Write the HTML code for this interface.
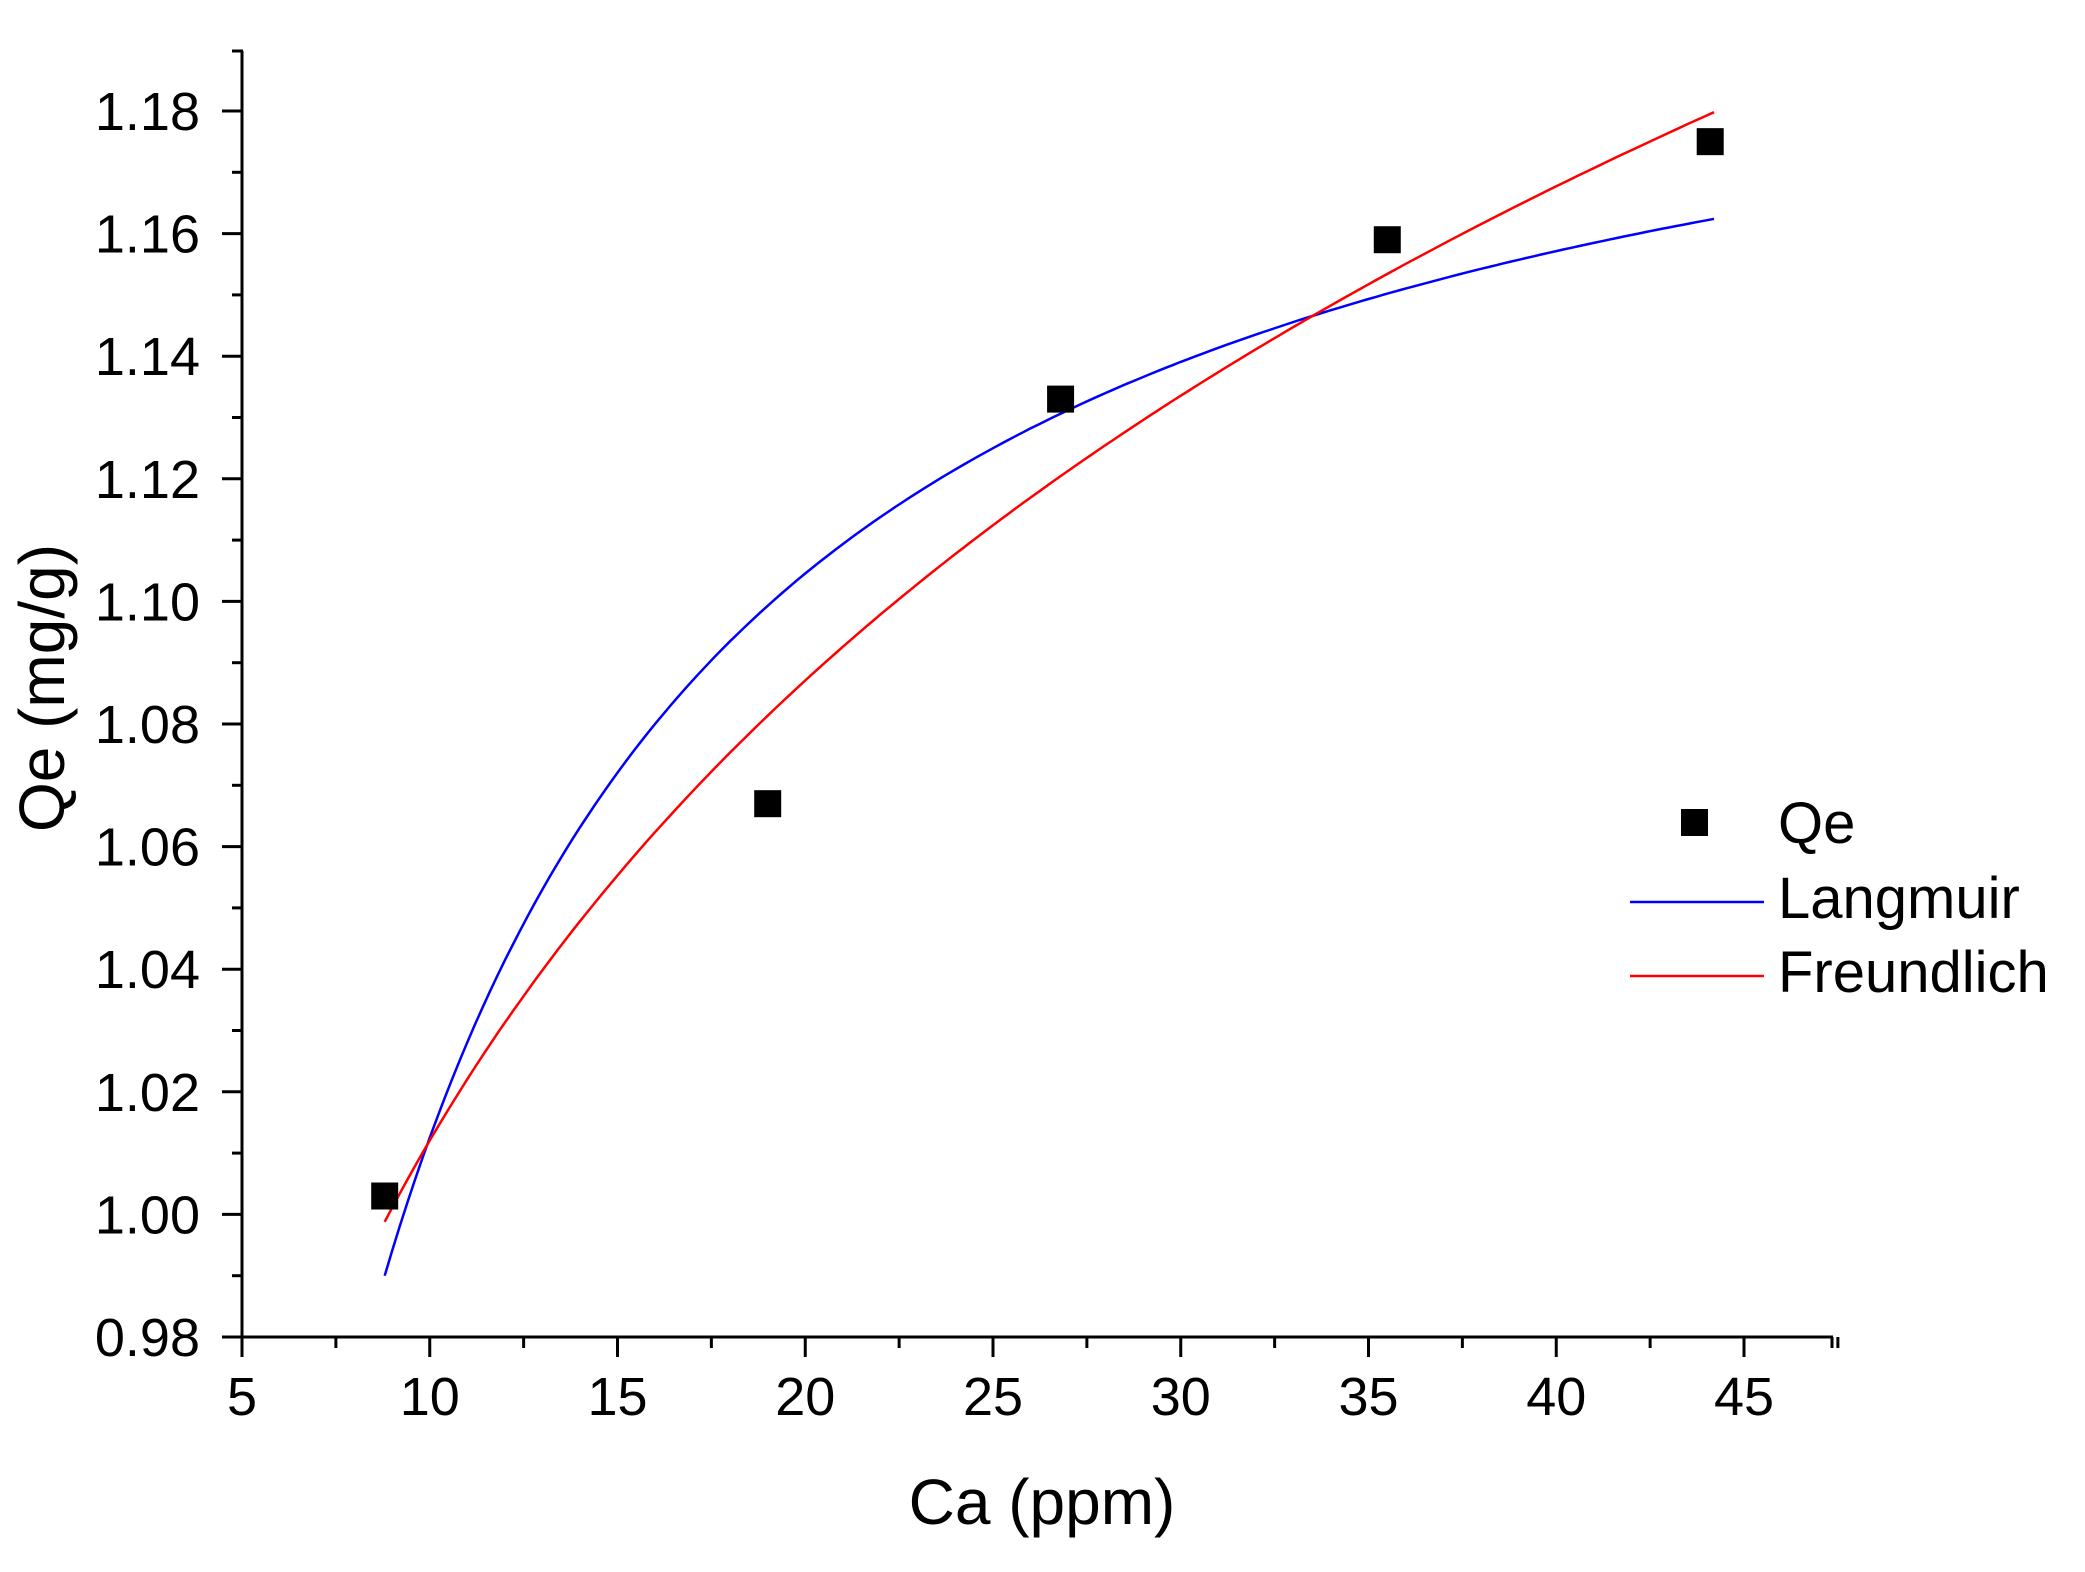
<!DOCTYPE html>
<html><head><meta charset="utf-8"><style>
html,body{margin:0;padding:0;background:#fff}
svg text{font-family:"Liberation Sans",Arial,sans-serif;fill:#000}
</style></head><body>
<svg id="s" width="2085" height="1567" viewBox="0 0 2085 1567" xmlns="http://www.w3.org/2000/svg">
<g id="g"></g>
<text x="1042" y="1524" font-size="64" text-anchor="middle">Ca (ppm)</text>
<text transform="translate(64,688) rotate(-90)" font-size="64" text-anchor="middle">Qe (mg/g)</text>
<rect x="1681" y="809" width="27" height="27" fill="#000"/>
<text x="1778" y="843" font-size="58">Qe</text>
<line x1="1630" y1="902" x2="1764" y2="902" stroke="#0000ff" stroke-width="2.5"/>
<text x="1778" y="918" font-size="58">Langmuir</text>
<line x1="1630" y1="976" x2="1764" y2="976" stroke="#ff0000" stroke-width="2.5"/>
<text x="1778" y="992" font-size="58">Freundlich</text>
</svg>
<script>
var X0=242,XU=37.55,Y0=1337,YU=6130;
function px(x){return X0+(x-5)*XU}
function py(y){return Y0-(y-0.98)*YU}
var h='';
h+='<line x1="242" y1="51" x2="242" y2="1338" stroke="#000" stroke-width="3"/>';
h+='<line x1="241" y1="1337" x2="1833" y2="1337" stroke="#000" stroke-width="3"/>';
h+='<line x1="232" y1="51" x2="243" y2="51" stroke="#000" stroke-width="3"/>';
h+='<line x1="1832" y1="1337" x2="1832" y2="1348" stroke="#000" stroke-width="3"/>';
for(var i=0;i<=20;i++){var y=Y0-i*0.01*YU;var maj=i%2==0;
h+='<line x1="'+(maj?222:232)+'" y1="'+y+'" x2="242" y2="'+y+'" stroke="#000" stroke-width="3"/>';
if(maj)h+='<text x="200" y="'+(y+19)+'" font-size="54" text-anchor="end">'+(0.98+i*0.01).toFixed(2)+'</text>';}
for(var v=5;v<=47.5;v+=2.5){var x=px(v);var maj=(v%5==0);
h+='<line x1="'+x+'" y1="1337" x2="'+x+'" y2="'+(maj?1357:1348)+'" stroke="#000" stroke-width="3"/>';
if(maj)h+='<text x="'+x+'" y="1415" font-size="54" text-anchor="middle">'+v+'</text>';}
var pl='',pf='';
for(var c=8.8;c<=44.21;c+=0.2){pl+=px(c).toFixed(1)+','+py(1.215*c/(2+c)).toFixed(1)+' ';pf+=px(c).toFixed(1)+','+py(0.798*Math.pow(c,0.1032)).toFixed(1)+' ';}
h+='<polyline points="'+pl+'" fill="none" stroke="#0000ff" stroke-width="2.5"/>';
h+='<polyline points="'+pf+'" fill="none" stroke="#ff0000" stroke-width="2.5"/>';
var d=[[8.8,1.003],[19,1.067],[26.8,1.133],[35.5,1.159],[44.1,1.175]];
d.forEach(function(p){h+='<rect x="'+(px(p[0])-13.5)+'" y="'+(py(p[1])-13.5)+'" width="27" height="27" fill="#000"/>';});
document.getElementById('g').innerHTML=h;
</script>
</body></html>
